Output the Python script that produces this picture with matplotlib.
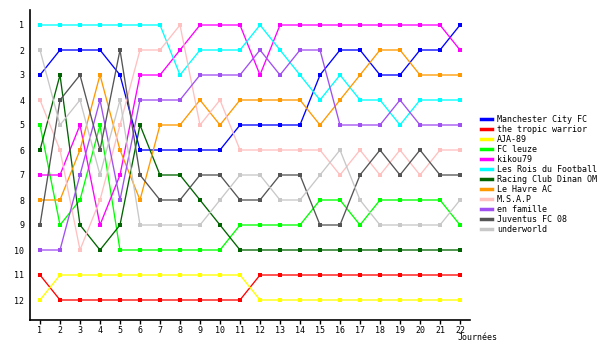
import matplotlib
matplotlib.use("Agg")
import matplotlib.pyplot as plt
from matplotlib.lines import Line2D

journees = list(range(1, 23))
teams = ["Manchester City FC", "the tropic warrior", "AJA-89", "FC leuze", "kikou79",
         "Les Rois du Football", "Racing Club Dinan OM", "Le Havre AC", "M.S.A.P",
         "en famille", "Juventus FC 08", "underworld"]
colors = ["#0000ff", "#ff0000", "#ffff00", "#00ff00", "#ff00ff", "#00ffff",
          "#006400", "#ff9900", "#ffc0c0", "#a050f0", "#555555", "#c8c8c8"]

man_city = [3, 2, 2, 2, 3, 6, 6, 6, 6, 6, 5, 5, 5, 5, 3, 2, 2, 3, 3, 2, 2, 1]
tropic = [11, 12, 12, 12, 12, 12, 12, 12, 12, 12, 12, 11, 11, 11, 11, 11, 11, 11, 11, 11, 11, 11]
aja89 = [12, 11, 11, 11, 11, 11, 11, 11, 11, 11, 11, 12, 12, 12, 12, 12, 12, 12, 12, 12, 12, 12]
fc_leuze = [5, 9, 8, 5, 10, 10, 10, 10, 10, 10, 9, 9, 9, 9, 8, 8, 9, 8, 8, 8, 8, 9]
kikou79 = [7, 7, 5, 9, 7, 3, 3, 2, 1, 1, 1, 3, 1, 1, 1, 1, 1, 1, 1, 1, 1, 2]
rois = [1, 1, 1, 1, 1, 1, 1, 3, 2, 2, 2, 1, 2, 3, 4, 3, 4, 4, 5, 4, 4, 4]
dinan = [6, 3, 9, 10, 9, 5, 7, 7, 8, 9, 10, 10, 10, 10, 10, 10, 10, 10, 10, 10, 10, 10]
havre = [8, 8, 6, 3, 6, 8, 5, 5, 4, 5, 4, 4, 4, 4, 5, 4, 3, 2, 2, 3, 3, 3]
msap = [4, 6, 10, 8, 5, 2, 2, 1, 5, 4, 6, 6, 6, 6, 6, 7, 6, 7, 6, 7, 6, 6]
famille = [10, 10, 7, 4, 8, 4, 4, 4, 3, 3, 3, 2, 3, 2, 2, 5, 5, 5, 4, 5, 5, 5]
juventus = [9, 4, 3, 6, 2, 7, 8, 8, 7, 7, 8, 8, 7, 7, 9, 9, 7, 6, 7, 6, 7, 7]
underworld = [2, 5, 4, 7, 4, 9, 9, 9, 9, 8, 7, 7, 8, 8, 7, 6, 8, 9, 9, 9, 9, 8]

series = [man_city, tropic, aja89, fc_leuze, kikou79, rois, dinan, havre, msap,
          famille, juventus, underworld]
ranks = list(range(1, 13))

plt.rcParams['font.family'] = ['DejaVu Sans Mono']
fig = plt.figure(figsize=(6, 3.5), dpi=100)
ax = fig.add_axes([30/600, 1-320/350, 440/600, 310/350])

for vals, c in zip(series, colors):
    ax.plot(journees, vals, color=c, lw=0.95, marker='s', markersize=2.2,
            markeredgewidth=0, solid_joinstyle='miter')

ax.set_xlim(0.5, 22.5)
ax.set_ylim(12.8, 0.4)
ax.set_xticks(journees)
ax.set_xticklabels([str(j) for j in journees])
ax.set_yticks(ranks)
ax.set_yticklabels([str(r) for r in ranks])
ax.tick_params(axis='x', length=3, width=1, pad=1, labelsize=6)
ax.tick_params(axis='y', length=0, pad=4, labelsize=6)
for s in ['top', 'right']:
    ax.spines[s].set_visible(False)
for s in ['left', 'bottom']:
    ax.spines[s].set_linewidth(1.2)

fig.text(458/600, 1-338/350, 'Journées', fontsize=6, va='center', ha='left')

handles = [Line2D([0], [0], color=c, lw=2.5) for c in colors]
ax.legend(handles, teams, loc='upper left', bbox_to_anchor=(481/600, 1-115/350),
          bbox_transform=fig.transFigure, frameon=False, prop={'size': 6},
          handlelength=1.33, handletextpad=0.6, labelspacing=0.12, borderaxespad=0,
          borderpad=0)

fig.savefig("out.png", dpi=100)
